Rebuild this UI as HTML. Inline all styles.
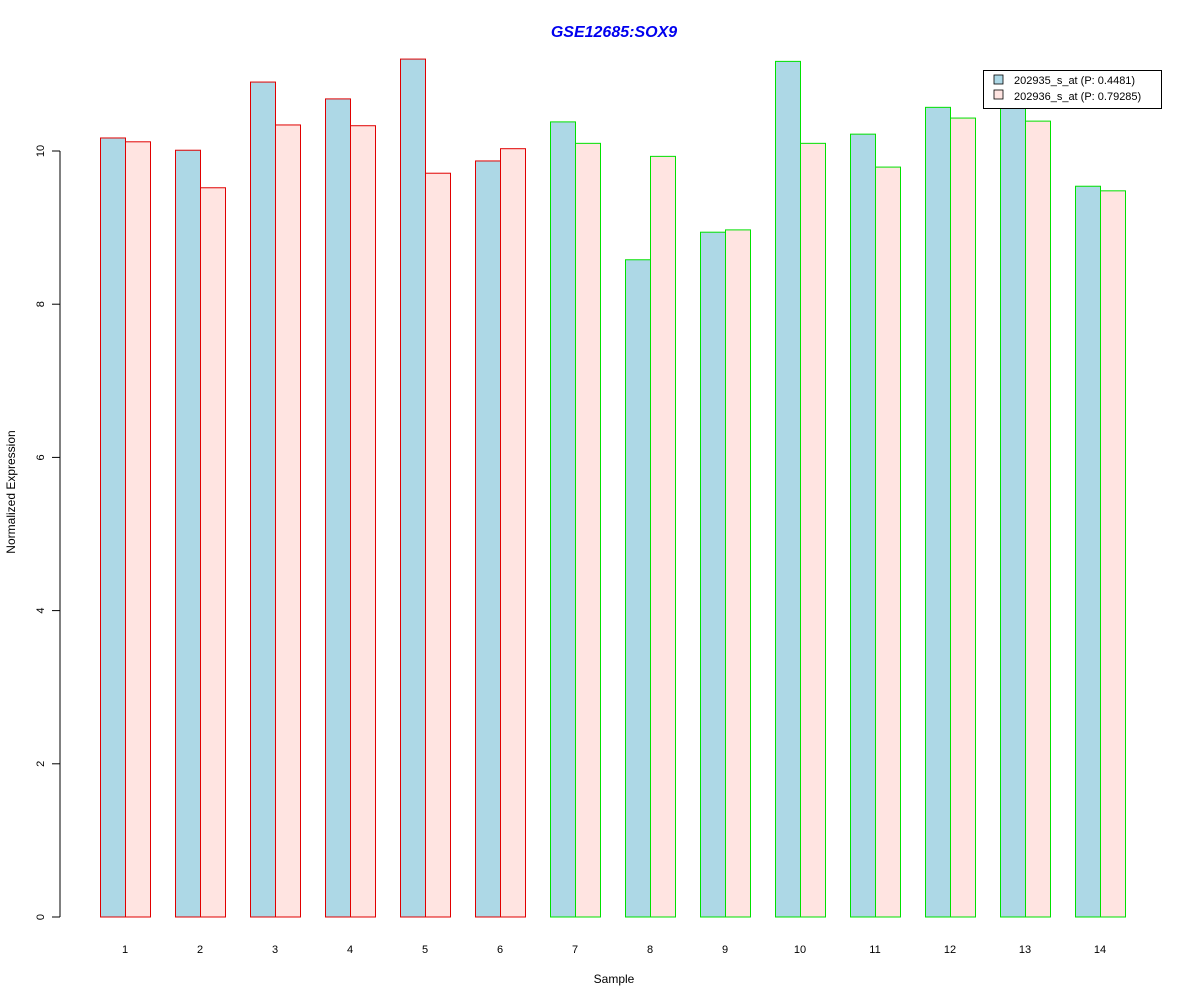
<!DOCTYPE html>
<html><head><meta charset="utf-8"><style>body{margin:0;background:#fff}svg{display:block;font-family:"Liberation Sans",Arial,sans-serif}</style></head>
<body>
<svg id="chart" width="1200" height="1000" xmlns="http://www.w3.org/2000/svg">
<rect width="1200" height="1000" fill="#fff"/>
<text x="614" y="37" text-anchor="middle" font-size="16" font-weight="bold" font-style="italic" fill="#0000ee">GSE12685:SOX9</text>
<text x="614" y="983" text-anchor="middle" font-size="12">Sample</text>
<text transform="translate(15,492) rotate(-90)" text-anchor="middle" font-size="12">Normalized Expression</text>
<g id="axis"></g><g id="bars"></g><g id="xlabels"></g>
<g>
<rect x="983.5" y="70.5" width="178" height="38" fill="#fff" stroke="#000"/>
<rect x="994" y="75" width="9" height="9" fill="#add8e6" stroke="#000" stroke-width="0.8"/>
<text x="1014" y="84" font-size="11">202935_s_at (P: 0.4481)</text>
<rect x="994" y="90" width="9" height="9" fill="#ffe4e1" stroke="#000" stroke-width="0.8"/>
<text x="1014" y="100" font-size="11">202936_s_at (P: 0.79285)</text>
</g>
</svg>
<script>
const categories=["1","2","3","4","5","6","7","8","9","10","11","12","13","14"];
const series1=[10.17,10.01,10.90,10.68,11.20,9.87,10.38,8.58,8.94,11.17,10.22,10.57,10.60,9.54];
const series2=[10.12,9.52,10.34,10.33,9.71,10.03,10.10,9.93,8.97,10.10,9.79,10.43,10.39,9.48];
const groupColor=["#e00000","#e00000","#e00000","#e00000","#e00000","#e00000","#00e000","#00e000","#00e000","#00e000","#00e000","#00e000","#00e000","#00e000"];
const yTicks=[0,2,4,6,8,10];
const NS="http://www.w3.org/2000/svg";
const y=v=>917-v*76.6;
const x=i=>100+75*i;
function mk(t,a,p){const e=document.createElementNS(NS,t);for(const k in a)e.setAttribute(k,a[k]);p.appendChild(e);return e;}
const ax=document.getElementById('axis');
const al=mk('line',{x1:60,x2:60,y1:y(0),y2:y(10),stroke:'#000'},ax);


yTicks.forEach(t=>{
 const l=mk('line',{x1:52,x2:60,y1:y(t),y2:y(t),stroke:'#000'},ax);
 
 
 const tx=mk('text',{transform:`translate(44,${y(t)}) rotate(-90)`,'text-anchor':'middle','font-size':11},ax);
 tx.textContent=t;
 
 
});
const bg=document.getElementById('bars'),xl=document.getElementById('xlabels');
categories.forEach((c,i)=>{
 const b1=mk('rect',{x:x(i)+0.5,y:y(series1[i]),width:25,height:y(0)-y(series1[i]),fill:'#add8e6',stroke:groupColor[i]},bg);
 
 
 const b2=mk('rect',{x:x(i)+25.5,y:y(series2[i]),width:25,height:y(0)-y(series2[i]),fill:'#ffe4e1',stroke:groupColor[i]},bg);
 
 
 const t=mk('text',{x:x(i)+25,y:953,'text-anchor':'middle','font-size':11},xl);
 t.textContent=c;
 
 
});
</script>
</body></html>
